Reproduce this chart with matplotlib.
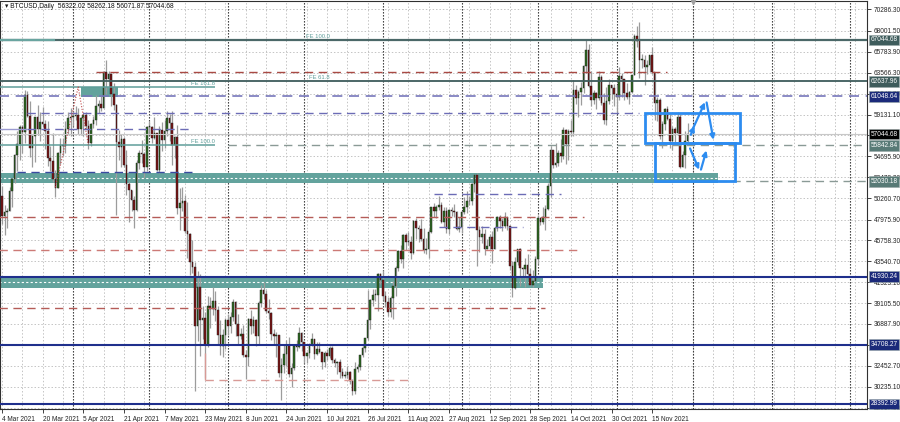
import numpy as np
import pandas as pd
import matplotlib
matplotlib.use('Agg')
import matplotlib.pyplot as plt
import matplotlib.dates as mdates
import matplotlib.transforms as mtransforms
from matplotlib.patches import Rectangle

plt.rcParams['font.family'] = ['Liberation Sans', 'DejaVu Sans']

# daily BTCUSD, 4 Mar 2021 .. 29 Nov 2021, prices in thousands of USD
start = '2021-03-04'
first_open = 50.5

close_k = [
    # Mar
    48.4, 48.8, 48.9, 51.0, 52.3, 54.8, 56.0, 57.8, 57.3, 61.2, 59.0, 55.6, 56.9, 58.9,
    57.6, 58.3, 58.1, 57.4, 54.5, 54.2, 52.3, 51.3, 55.0, 55.9, 55.8, 57.6, 58.8, 58.9,
    # Apr
    59.0, 59.1, 57.6, 58.8, 59.1, 57.9, 56.1, 58.1, 58.5, 60.0, 60.2, 59.8, 63.6, 62.9, 63.4,
    61.3, 60.1, 56.2, 55.7, 56.5, 53.8, 51.7, 51.1, 50.1, 49.0, 54.0, 55.0, 54.9, 53.6, 57.8,
    # May
    57.8, 56.6, 57.2, 53.2, 57.5, 56.4, 57.4, 58.8, 58.2, 55.9, 56.7, 49.2, 49.7, 49.9, 46.8, 46.4,
    43.5, 42.9, 36.7, 40.8, 37.3, 37.5, 34.7, 38.8, 38.5, 39.3, 38.4, 35.7, 34.6, 35.7, 37.3,
    # Jun
    36.7, 37.6, 39.2, 36.9, 35.6, 35.8, 33.6, 33.4, 37.4, 36.7, 37.3, 35.6, 39.1, 40.5, 40.1,
    38.3, 38.1, 35.8, 35.6, 35.7, 31.7, 32.5, 33.7, 34.7, 31.6, 32.2, 34.6, 34.4, 35.9, 35.0,
    # Jul
    33.5, 33.8, 34.7, 35.3, 33.7, 34.2, 33.9, 32.9, 33.8, 33.5, 34.3, 33.1, 32.7, 32.8, 31.8, 31.4,
    31.5, 31.8, 30.8, 29.8, 32.1, 32.3, 33.6, 34.3, 35.4, 37.3, 39.4, 40.0, 40.0, 42.2, 41.6,
    # Aug
    39.9, 39.2, 38.2, 39.7, 40.9, 42.8, 44.6, 43.8, 46.3, 45.6, 45.6, 44.4, 47.8, 47.1, 47.0, 45.9,
    44.7, 44.8, 46.7, 49.3, 48.9, 49.3, 49.5, 47.7, 48.9, 47.0, 49.0, 48.9, 48.8, 47.0, 47.2,
    # Sep
    48.8, 49.3, 50.0, 49.9, 51.8, 52.7, 46.9, 46.1, 46.4, 44.9, 45.2, 46.1, 44.9, 47.1, 48.2,
    47.8, 47.3, 48.3, 47.3, 43.0, 40.7, 43.5, 44.9, 42.8, 42.7, 43.2, 42.2, 41.0, 41.5, 43.8,
    # Oct
    48.1, 47.7, 48.2, 49.1, 51.5, 55.4, 53.8, 54.0, 55.0, 54.7, 57.5, 56.0, 57.4, 57.3, 61.7, 60.9,
    61.5, 62.0, 64.3, 66.0, 62.2, 60.7, 61.4, 60.9, 63.1, 60.4, 58.5, 60.6, 62.3, 61.9, 61.3,
    # Nov
    61.0, 63.2, 62.9, 61.4, 61.0, 61.5, 63.3, 67.5, 66.9, 64.9, 64.9, 64.2, 64.4, 65.5, 63.6,
    60.4, 60.7, 56.9, 58.1, 59.7, 58.7, 56.3, 57.6, 57.2, 58.9, 53.6, 54.8, 56.32202, 57.04468,
]

high_k = [
    51.5, 49.5, 49.2, 51.4, 52.4, 54.9, 57.4, 58.0, 58.0, 61.7, 61.6, 60.6, 56.9, 58.9,
    60.1, 59.4, 59.9, 58.6, 58.4, 55.8, 57.2, 53.2, 55.1, 56.6, 56.6, 58.4, 59.4, 59.8,
    59.5, 60.0, 59.8, 58.9, 59.3, 59.4, 58.6, 58.2, 59.0, 61.2, 60.7, 61.2, 63.7, 64.9, 63.8,
    63.5, 62.5, 60.3, 57.5, 57.1, 56.7, 55.4, 52.1, 51.1, 50.5, 54.3, 55.4, 56.4, 55.2, 57.9,
    58.4, 57.9, 58.9, 57.2, 57.9, 58.3, 58.6, 59.5, 59.2, 59.5, 56.9, 58.0, 51.3, 51.4, 50.6, 49.8,
    46.6, 45.8, 43.5, 42.5, 42.2, 38.8, 38.2, 39.9, 39.8, 40.8, 40.4, 38.8, 37.3, 36.4, 37.5,
    37.9, 38.2, 39.5, 39.3, 37.9, 36.5, 36.8, 34.1, 37.5, 38.4, 37.7, 37.4, 39.3, 41.0, 41.3,
    40.5, 39.5, 38.2, 36.4, 36.0, 35.7, 33.3, 34.8, 35.2, 35.5, 32.7, 34.7, 35.2, 36.6, 36.0,
    35.0, 33.9, 34.9, 35.9, 35.3, 35.0, 35.0, 33.9, 34.0, 34.2, 34.6, 34.6, 33.3, 33.0, 33.2, 32.2,
    31.9, 32.4, 31.9, 31.0, 32.8, 32.6, 33.6, 34.5, 35.4, 40.5, 39.5, 40.6, 40.6, 42.3, 42.3,
    42.6, 40.4, 39.8, 39.9, 41.4, 43.0, 44.7, 45.3, 46.4, 46.6, 46.7, 46.2, 47.9, 48.1, 47.4, 48.0,
    47.1, 46.0, 47.0, 49.3, 49.7, 49.5, 50.5, 49.8, 49.3, 49.3, 49.1, 49.3, 49.6, 48.9, 48.2,
    48.9, 50.4, 51.0, 50.5, 51.9, 52.8, 52.9, 47.3, 47.3, 47.0, 45.9, 46.4, 46.8, 47.2, 48.4,
    48.5, 48.1, 48.8, 48.3, 47.3, 43.6, 44.0, 44.9, 45.0, 42.9, 43.9, 44.3, 42.8, 42.6, 44.1,
    48.5, 48.3, 49.3, 49.5, 51.9, 55.8, 55.3, 56.1, 55.4, 56.5, 57.8, 57.6, 57.6, 58.5, 62.8, 62.3,
    61.7, 62.6, 64.4, 67.0, 66.6, 63.7, 61.7, 61.5, 63.7, 63.3, 61.4, 62.1, 62.9, 62.3, 62.4,
    62.3, 64.2, 63.5, 62.9, 62.5, 61.6, 63.3, 67.7, 68.5, 69.0, 65.6, 65.4, 64.9, 65.5, 66.3,
    63.6, 61.0, 60.9, 58.4, 59.8, 60.0, 59.2, 57.9, 57.8, 59.4, 59.2, 55.3, 57.4, 58.26218,
]

low_k = [
    47.5, 46.3, 47.1, 48.9, 49.3, 51.9, 53.1, 54.3, 55.0, 56.1, 58.9, 54.6, 53.6, 54.1,
    57.0, 56.3, 57.8, 55.5, 53.7, 53.1, 52.0, 50.4, 51.3, 53.9, 54.7, 55.0, 57.1, 56.8,
    57.9, 58.5, 57.1, 57.0, 56.8, 57.6, 55.5, 55.8, 57.7, 58.0, 59.3, 59.5, 59.8, 61.3, 62.0,
    60.0, 59.6, 48.5, 54.3, 53.6, 53.6, 50.6, 47.7, 48.9, 47.1, 48.9, 53.3, 54.0, 52.4, 53.1,
    57.1, 56.1, 56.5, 53.1, 52.9, 55.3, 55.6, 56.9, 56.3, 53.8, 54.5, 48.6, 46.9, 48.9, 46.6, 43.9,
    42.1, 42.3, 29.8, 35.1, 33.5, 35.3, 31.1, 34.4, 36.5, 37.8, 37.2, 34.8, 33.6, 33.4, 34.2,
    35.7, 35.9, 37.2, 35.6, 34.8, 35.3, 33.4, 31.0, 32.4, 35.8, 35.9, 34.6, 34.8, 38.7, 39.5,
    38.1, 37.4, 35.2, 34.8, 33.4, 31.3, 28.8, 31.7, 32.4, 31.3, 30.2, 32.0, 34.0, 34.3, 34.0,
    32.7, 32.7, 33.3, 34.6, 33.2, 33.6, 33.8, 32.1, 32.3, 33.1, 33.3, 32.7, 32.3, 31.6, 31.2, 31.1,
    31.2, 31.2, 30.5, 29.3, 29.5, 31.8, 32.0, 33.4, 33.9, 35.2, 36.4, 38.8, 39.3, 38.3, 41.1,
    39.4, 38.7, 37.7, 37.6, 37.4, 39.9, 42.5, 43.4, 42.8, 44.7, 45.3, 43.8, 44.3, 45.9, 45.6, 45.7,
    44.4, 44.3, 43.9, 46.6, 48.3, 48.1, 49.0, 47.6, 47.2, 46.5, 46.4, 48.4, 48.2, 46.9, 46.7,
    46.5, 48.6, 48.7, 49.5, 49.5, 50.9, 43.0, 44.5, 45.5, 44.2, 44.8, 44.8, 43.4, 44.8, 46.8,
    47.1, 46.8, 47.1, 46.9, 42.6, 39.8, 40.6, 43.2, 40.9, 41.8, 40.8, 42.1, 40.9, 40.8, 41.4,
    43.3, 47.4, 47.5, 46.9, 49.0, 50.4, 53.4, 53.6, 53.7, 54.1, 54.4, 53.9, 54.3, 56.9, 56.9, 60.2,
    58.9, 60.1, 61.4, 63.5, 62.1, 60.0, 60.2, 59.7, 60.7, 60.1, 58.1, 58.0, 60.3, 60.8, 60.0,
    59.4, 60.7, 61.0, 60.7, 60.8, 60.2, 61.4, 63.3, 66.3, 63.0, 64.1, 62.3, 63.4, 63.6, 63.4,
    58.6, 58.4, 56.5, 55.6, 57.5, 58.5, 55.6, 55.4, 55.9, 57.0, 53.5, 53.6, 53.4, 56.07187,
]

date_labels = ['4 Mar 2021', '20 Mar 2021', '5 Apr 2021', '21 Apr 2021', '7 May 2021',
               '23 May 2021', '8 Jun 2021', '24 Jun 2021', '10 Jul 2021', '26 Jul 2021',
               '11 Aug 2021', '27 Aug 2021', '12 Sep 2021', '28 Sep 2021', '14 Oct 2021',
               '30 Oct 2021', '15 Nov 2021']

price_ticks = [70286.30, 68001.50, 65783.90, 63566.30, 61348.70, 59131.10, 56913.50,
               54695.90, 52478.30, 50260.70, 47975.90, 45758.30, 43540.70, 41323.10,
               39105.50, 36887.90, 34670.30, 32452.70, 30235.10, 28017.50]

# right-axis price tags: (price, box colour)
tag_prices = [67044.68, 62637.96, 61048.64, 57044.68, 55842.84, 52030.18,
              41930.24, 34708.27, 28392.99]
tag_colors = ['#3e5c5c', '#3e5c5c', '#1b2a7a', '#000000', '#587a76', '#587a76',
              '#1b2a7a', '#1b2a7a', '#1b2a7a']

dates = pd.date_range(start, periods=len(close_k), freq='D')
x = mdates.date2num(dates)
close = np.array(close_k) * 1000
high = np.array(high_k) * 1000
low = np.array(low_k) * 1000
opn = np.concatenate([[first_open * 1000], close[:-1]])


def d(s):
    return mdates.date2num(pd.Timestamp(s))


fig = plt.figure(figsize=(9, 4.22), dpi=100)
ax = fig.add_axes([0, 13 / 422, 867 / 900, 408 / 422])

x0 = x[0]
ax.set_xlim(x0 - 0.79, x0 + 340.6)
ax.set_ylim(27860, 71186)

# grid
for gx in pd.date_range(start, '2022-02-15', freq='8D'):
    ax.axvline(mdates.date2num(gx), color='#c4c4c4', lw=0.7, ls=(0, (1.5, 2)), zorder=0)
for py in price_ticks:
    ax.axhline(py, color='#c4c4c4', lw=0.7, ls=(0, (1.5, 2)), zorder=0)
for m in pd.date_range('2021-04-01', '2022-02-01', freq='MS'):
    ax.axvline(mdates.date2num(m), color='#222222', lw=0.8, ls=(0, (1.2, 1.5)), zorder=0.5)

# zones
teal = '#63a39d'
ax.add_patch(Rectangle((d('2021-04-04'), 61020), d('2021-04-18 18:00') - d('2021-04-04'),
                       1060, fc=teal, ec='none', zorder=1))
ax.add_patch(Rectangle((x0 - 1, 51880), d('2021-12-11') - x0 + 1, 1050, fc=teal, ec='none', zorder=1))
ax.hlines(52400, x0 - 1, d('2021-12-11'), colors='white', lw=0.8, ls=(0, (2, 2)), zorder=1.2)
ax.add_patch(Rectangle((x0 - 1, 40700), d('2021-10-03') - x0 + 1, 1230, fc=teal, ec='none', zorder=1))
ax.hlines(41300, x0 - 1, d('2021-10-03'), colors='white', lw=0.8, ls=(0, (2, 2)), zorder=1.2)

# candles
bull = close >= opn
wick_c = '#9c9c9c'
ax.vlines(x, low, high, colors=wick_c, lw=0.9, zorder=3)
body = np.where(np.abs(close - opn) < 80, 80, close - opn)
ax.bar(x, body, bottom=opn, width=0.62,
       color=np.where(bull, '#2f6b22', '#7c1414'), edgecolor='#1a1a1a', linewidth=0.3, zorder=4)

# horizontal objects
def hline(p, a, b, color, lw=1.0, ls='-', z=5):
    ax.hlines(p, a, b, colors=color, lw=lw, linestyles=ls, zorder=z)

left, right = x0 - 1, x0 + 345
dash = (0, (6, 4))
hline(67044.68, left, right, '#4b6868', 1.6)
hline(67044.68, left, d('2021-03-25'), '#6aa5a0', 1.6)
hline(62637.96, left, right, '#3e5c5c', 1.3)
hline(62054, left, d('2021-05-27'), '#5f9e9a', 1.1)
hline(63646, d('2021-04-10'), d('2021-11-21'), '#a94a44', 1.0, dash)
hline(61048.64, left, right, '#7777bb', 1.2, dash)
hline(59293, d('2021-03-14'), d('2021-11-10'), '#6c6cb6', 1.0, dash)
hline(57594, left, d('2021-03-14'), '#9a9ad0', 1.0)
hline(57594, d('2021-03-14'), d('2021-05-18'), '#6c6cb6', 1.0, dash)
hline(57044.68, left, right, '#c8c8c8', 0.8)
hline(55842.84, left, d('2021-05-27'), '#5f9e9a', 1.1)
hline(55842.84, d('2021-06-01'), right, '#8a9a96', 1.0, dash)
hline(53028, d('2021-03-10'), d('2021-05-18'), '#3a4aa0', 1.0, dash)
hline(52030.18, d('2021-12-11'), right, '#8a9a96', 1.0, dash)
hline(50691, d('2021-08-21'), d('2021-10-10'), '#6c6cb6', 1.0, dash)
hline(48249, left, d('2021-10-19'), '#b55c58', 1.0, dash)
hline(47187, d('2021-08-23'), d('2021-09-25'), '#6c6cb6', 1.0, dash)
hline(44745, left, d('2021-10-17'), '#cc7a76', 1.0, dash)
hline(41930.24, left, right, '#1f2f8c', 1.5)
hline(38586, left, d('2021-10-04'), '#b55c58', 1.0, dash)
hline(34708.27, left, right, '#1f2f8c', 1.5)
hline(30940, d('2021-05-23'), d('2021-08-12'), '#d89a96', 1.0, dash)
ax.vlines(d('2021-05-23'), 30940, 33800, colors='#d89a96', lw=1.0, zorder=5)
hline(28392.99, left, right, '#1f2f8c', 1.5)

# fibo expansion dotted path
ax.plot([d('2021-03-25'), d('2021-04-03'), d('2021-04-07')], [51400, 62050, 55900],
        color='#c24a4a', lw=0.8, ls=(0, (1, 1.5)), zorder=5)

fe_c = '#5f9e9a'
for txt, px, py in [('FE 100.0', '2021-07-11', 67100), ('FE 61.8', '2021-07-11', 62750),
                    ('FE 161.8', '2021-05-27', 62150), ('FE 100.0', '2021-05-27', 55950),
                    ('FE 61.8', '2021-05-27', 52250)]:
    ax.text(d(px), py, txt, fontsize=4.2, color=fe_c, ha='right', va='bottom', zorder=6)

# analysis boxes and arrows
blue = '#2d8cf0'
ax.add_patch(Rectangle((d('2021-11-12'), 56107), d('2021-12-19 18:00') - d('2021-11-12'),
                       59293 - 56107, fill=False, ec=blue, lw=2, zorder=7))
ax.add_patch(Rectangle((d('2021-11-16'), 52072), d('2021-12-17 18:00') - d('2021-11-16'),
                       56107 - 52072, fill=False, ec=blue, lw=2, zorder=7))
arrows = [(('2021-11-30 16:00', 57400), ('2021-12-06 06:00', 60700)),
          (('2021-11-29 20:00', 56700), ('2021-12-02', 58200)),
          (('2021-12-06 06:00', 60700), ('2021-12-09 08:00', 56150)),
          (('2021-11-29 12:00', 55800), ('2021-12-03 22:00', 53000)),
          (('2021-12-03 22:00', 53000), ('2021-12-06 16:00', 55600))]
for (a, pa), (b, pb) in arrows:
    ax.annotate('', xy=(d(b), pb), xytext=(d(a), pa),
                arrowprops=dict(arrowstyle='-|>', color=blue, lw=1.6, mutation_scale=7),
                zorder=8)

# axes styling
for s in ax.spines.values():
    s.set_color('#303030')
    s.set_linewidth(0.8)
ax.yaxis.tick_right()
ax.set_yticks(price_ticks)
# tick labels that sit right under a price tag are hidden, as in the terminal
ylabels = ['' if min(abs(p - t) for t in tag_prices) < 200 else '%.2f' % p for p in price_ticks]
ax.set_yticklabels(ylabels)
ax.tick_params(axis='y', labelsize=4.7, length=3, width=0.6, pad=2, colors='#222222')
tick_dates = [pd.to_datetime(s, format='%d %b %Y') for s in date_labels]
ax.set_xticks(mdates.date2num(tick_dates))
ax.set_xticklabels(date_labels)
ax.tick_params(axis='x', labelsize=4.7, length=3, width=0.6, pad=2, colors='#222222')
for lab in ax.get_xticklabels():
    lab.set_ha('left')

tr = mtransforms.blended_transform_factory(ax.transAxes, ax.transData)
for p, c in zip(tag_prices, tag_colors):
    ax.text(1.004, p, '%.2f' % p, transform=tr, fontsize=4.7, color='white', ha='left',
            va='center', clip_on=False, zorder=10,
            bbox=dict(boxstyle='square,pad=0.25', fc=c, ec='#9aa8a8', lw=0.4))

ax.plot([d('2021-12-01')], [71050], marker='v', ms=3, color='#a0a0a0', clip_on=False, zorder=9)

fig.text(5 / 900, 1 - 6 / 422, '\u25be BTCUSD,Daily  56322.02 58262.18 56071.87 57044.68',
         fontsize=4.8, va='center', ha='left', color='#111111')

fig.savefig('out.png', dpi=100)
